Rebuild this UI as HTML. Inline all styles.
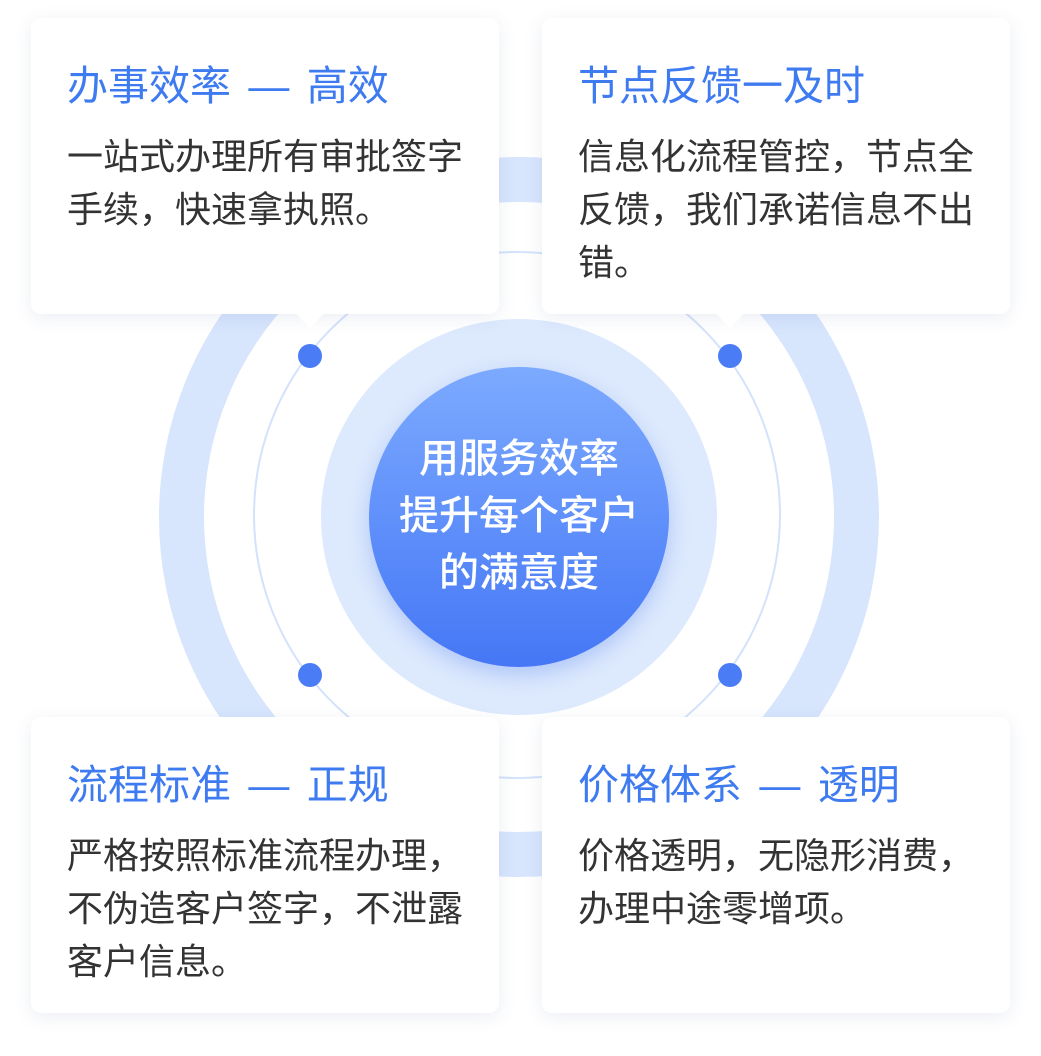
<!DOCTYPE html>
<html><head><meta charset="utf-8"><style>
body{margin:0;width:1041px;height:1056px;background:#fff;position:relative;overflow:hidden;font-family:"Liberation Sans","Noto Sans CJK SC",sans-serif}
.c{position:absolute;border-radius:50%}
.card{position:absolute;width:468px;height:296px;background:#fff;border-radius:10px;box-shadow:0 4px 18px rgba(60,90,150,0.10)}
.t{position:absolute;left:36px;top:46px;font-size:41px;line-height:44px;color:#3f7bf0;white-space:nowrap;word-spacing:6px}
.b{position:absolute;left:36px;top:112px;width:410px;font-size:36px;line-height:53px;color:#333}
.dot{position:absolute;width:24px;height:24px;border-radius:50%;background:#4a7cf6}
.tri{position:absolute;width:0;height:0;border-left:14px solid transparent;border-right:14px solid transparent;border-top:16px solid #fff}
</style></head><body>
<div class="c" style="left:159px;top:157px;width:720px;height:720px;background:#d7e5fd"></div>
<div class="c" style="left:204px;top:202px;width:630px;height:630px;background:#fff"></div>
<div class="c" style="left:253px;top:251px;width:528px;height:528px;border:2px solid #d4e2fb;box-sizing:border-box"></div>
<div class="c" style="left:321px;top:319px;width:396px;height:396px;background:#dde9fd"></div>
<div class="c" style="left:369px;top:367px;width:300px;height:300px;background:linear-gradient(180deg,#7caaff,#4577f6);box-shadow:0 8px 20px rgba(70,120,240,0.3)"></div>
<div style="position:absolute;left:349px;top:431px;width:340px;text-align:center;color:#fff;font-size:40px;line-height:57px;font-weight:500">用服务效率<br>提升每个客户<br>的满意度</div>
<div class="card" style="left:31px;top:18px"><div class="t">办事效率 — 高效</div><div class="b">一站式办理所有审批签字手续，快速拿执照。</div></div>
<div class="tri" style="left:296px;top:313px"></div>
<div class="card" style="left:542px;top:18px"><div class="t">节点反馈一及时</div><div class="b">信息化流程管控，节点全反馈，我们承诺信息不出错。</div></div>
<div class="tri" style="left:716px;top:313px"></div>
<div class="card" style="left:31px;top:717px"><div class="t">流程标准 — 正规</div><div class="b">严格按照标准流程办理，不伪造客户签字，不泄露客户信息。</div></div>
<div class="card" style="left:542px;top:717px"><div class="t">价格体系 — 透明</div><div class="b">价格透明，无隐形消费，办理中途零增项。</div></div>
<div class="dot" style="left:298px;top:344px"></div>
<div class="dot" style="left:718px;top:344px"></div>
<div class="dot" style="left:298px;top:663px"></div>
<div class="dot" style="left:718px;top:663px"></div>
</body></html>
